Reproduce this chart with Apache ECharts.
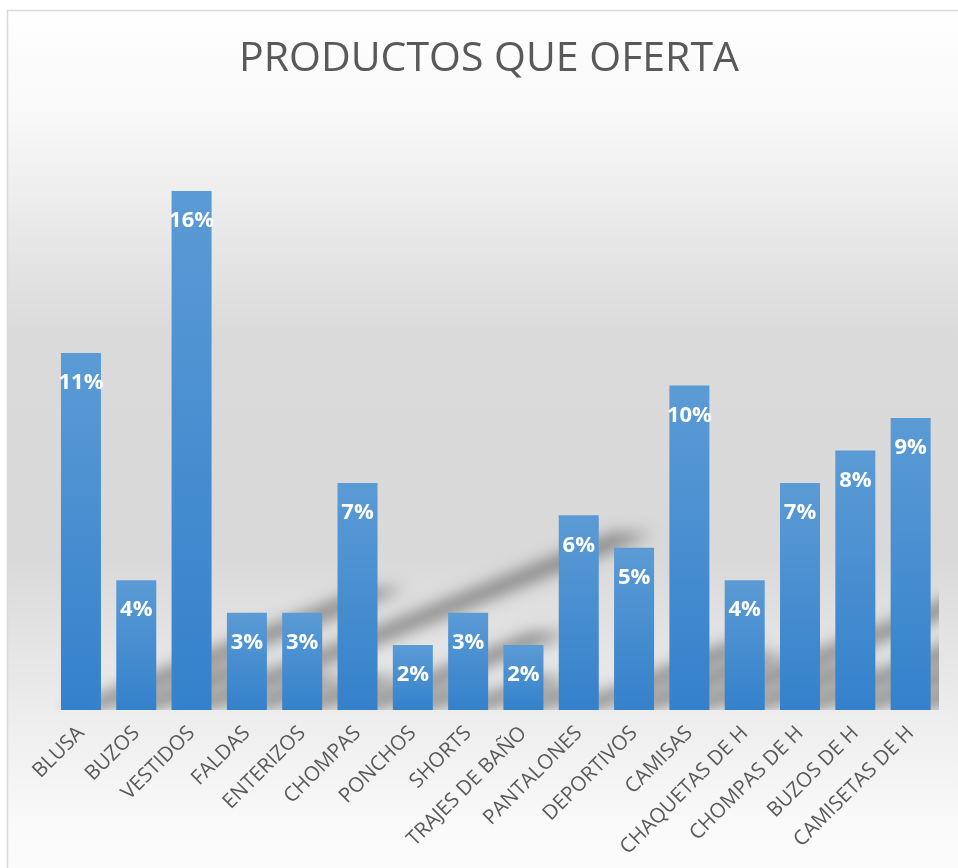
<!DOCTYPE html>
<html>
<head>
<meta charset="utf-8">
<script src="https://cdn.jsdelivr.net/npm/echarts@6/dist/echarts.min.js"></script>
<style>
  html, body { margin: 0; padding: 0; background: #ffffff; }
  #chart { width: 958px; height: 868px; }
</style>
</head>
<body>
<div id="chart"></div>
<script>
// Product categories and the share of each one (percent)
const categories = [
  'BLUSA', 'BUZOS', 'VESTIDOS', 'FALDAS', 'ENTERIZOS', 'CHOMPAS', 'PONCHOS',
  'SHORTS', 'TRAJES DE BAÑO', 'PANTALONES', 'DEPORTIVOS', 'CAMISAS',
  'CHAQUETAS DE H', 'CHOMPAS DE H', 'BUZOS DE H', 'CAMISETAS DE H'
];
const shares = [11, 4, 16, 3, 3, 7, 2, 3, 2, 6, 5, 10, 4, 7, 8, 9];
const chartTitle = 'PRODUCTOS QUE OFERTA';

const chart = echarts.init(document.getElementById('chart'), null, { renderer: 'canvas' });

const BAR_WIDTH = 40;
// Slanted "perspective" shadow cast by every bar, drawn as a blurred parallelogram.
// The shape itself is moved off-canvas and only its canvas shadow is shifted back.
const OFF = 3000;
function renderShadow(params, api) {
  const idx = api.value(0);
  const val = api.value(1);
  const top = api.coord([idx, val]);
  const base = api.coord([idx, 0]);
  const h = base[1] - top[1];
  const dx = h * 0.85;
  const dy = h * 0.34;
  const x0 = base[0] - BAR_WIDTH / 2;
  const x1 = base[0] + BAR_WIDTH / 2;
  const y = base[1];
  return {
    type: 'polygon',
    shape: {
      points: [
        [x0 - OFF, y], [x1 - OFF, y],
        [x1 + dx - OFF, y - dy], [x0 + dx - OFF, y - dy]
      ]
    },
    style: {
      fill: '#000',
      shadowBlur: 16,
      shadowColor: 'rgba(0,0,0,0.42)',
      shadowOffsetX: OFF,
      shadowOffsetY: 0
    },
    silent: true
  };
}

const option = {
  backgroundColor: '#ffffff',
  animation: false,
  title: {
    text: chartTitle,
    left: 489,
    top: 39,
    padding: 0,
    textAlign: 'center',
    textStyle: {
      fontFamily: '"Open Sans", "Noto Sans", sans-serif',
      fontSize: 41,
      fontWeight: 'normal',
      color: '#595959'
    }
  },
  graphic: [
    {
      type: 'rect',
      z: -10,
      silent: true,
      shape: { x: 7.5, y: 10.5, width: 970, height: 880 },
      style: {
        stroke: '#d9d9d9',
        lineWidth: 1.5,
        fill: new echarts.graphic.LinearGradient(0, 0, 0, 1, [
          { offset: 0, color: '#ffffff' },
          { offset: 0.12, color: '#f8f8f8' },
          { offset: 0.37, color: '#dadada' },
          { offset: 0.62, color: '#d9d9d9' },
          { offset: 0.81, color: '#eeeeee' },
          { offset: 0.92, color: '#f9f9f9' },
          { offset: 1, color: '#fdfdfd' }
        ])
      }
    }
  ],
  grid: {
    left: 53.3,
    right: 19.7,
    top: 126,
    bottom: 158,
    containLabel: false
  },
  xAxis: {
    type: 'category',
    data: categories,
    axisLine: { show: false },
    axisTick: { show: false },
    axisLabel: {
      interval: 0,
      rotate: 45,
      margin: 20,
      color: '#595959',
      fontFamily: '"Open Sans", "Noto Sans", sans-serif',
      fontSize: 20.5
    }
  },
  yAxis: {
    type: 'value',
    min: 0,
    max: 18,
    show: false,
    splitLine: { show: false }
  },
  series: [
    {
      type: 'custom',
      z: 1,
      clip: true,
      silent: true,
      renderItem: renderShadow,
      encode: { x: 0, y: 1 },
      data: shares.map((v, i) => [i, v])
    },
    {
      type: 'bar',
      z: 5,
      data: shares,
      barWidth: BAR_WIDTH,
      itemStyle: {
        color: new echarts.graphic.LinearGradient(0, 0, 0, 1, [
          { offset: 0, color: '#5b9bd5' },
          { offset: 1, color: '#3481cb' }
        ])
      },
      label: {
        show: true,
        position: 'insideTop',
        distance: 19,
        formatter: '{c}%',
        color: '#ffffff',
        fontFamily: '"Open Sans", "Noto Sans", sans-serif',
        fontWeight: 'bold',
        fontSize: 22,
        lineHeight: 22
      }
    }
  ]
};

chart.setOption(option);
</script>
</body>
</html>
